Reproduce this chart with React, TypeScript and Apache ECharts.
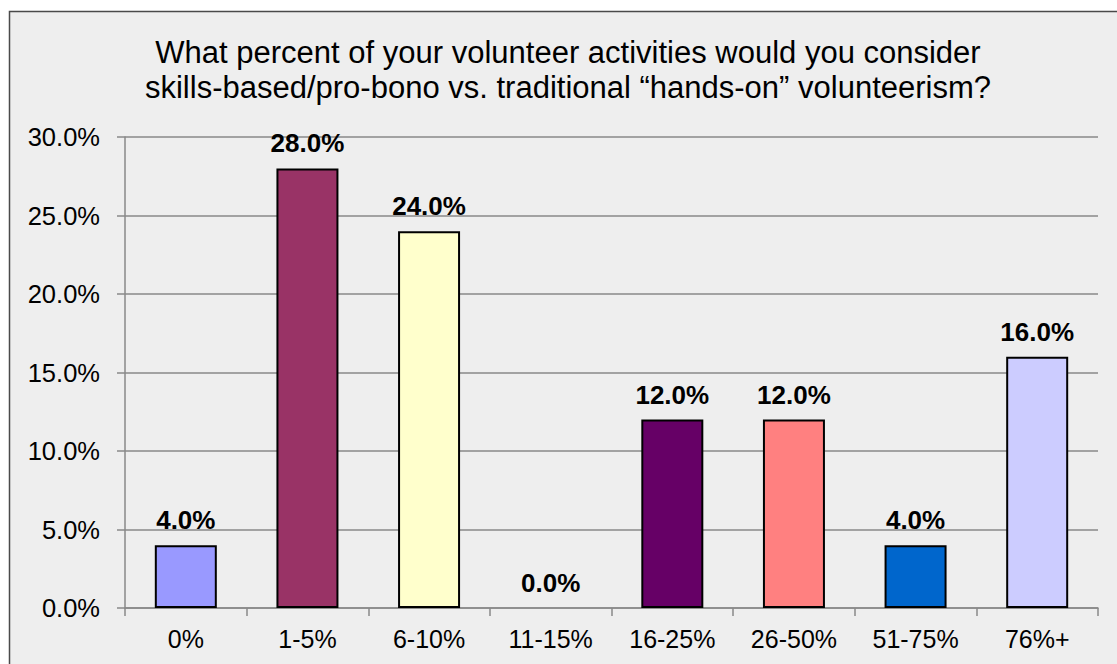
import React, { useEffect, useRef } from "react";
import * as echarts from "echarts";

const categories = ["0%", "1-5%", "6-10%", "11-15%", "16-25%", "26-50%", "51-75%", "76%+"];
const values = [4.0, 28.0, 24.0, 0.0, 12.0, 12.0, 4.0, 16.0];
const barColors = ["#9999FF", "#993366", "#FFFFCC", "#CCFFFF", "#660066", "#FF8080", "#0066CC", "#CCCCFF"];
const titleLines = [
  "What percent of your volunteer activities would you consider",
  "skills-based/pro-bono vs. traditional \u201chands-on\u201d volunteerism?",
];

const FONT = "'Liberation Sans', Arial, sans-serif";

export default function App() {
  const ref = useRef<HTMLDivElement>(null);
  useEffect(() => {
    if (!ref.current) return;
    const chart = echarts.init(ref.current, null, { renderer: "svg" });
    chart.setOption({
      animation: false,
      backgroundColor: "#FFFFFF",
      graphic: [
        {
          type: "rect",
          z: -10,
          shape: { x: 9.5, y: 11.5, width: 1130, height: 700 },
          style: { fill: "#EEEEEE", stroke: "#4A4A4A", lineWidth: 1.5 },
          silent: true,
        },
      ],
      title: {
        text: titleLines.join("\n"),
        left: 563,
        textAlign: "center",
        top: 30,
        textStyle: {
          fontFamily: FONT,
          fontSize: 31,
          fontWeight: "normal",
          color: "#000",
          lineHeight: 35,
        },
      },
      grid: { left: 125, right: 19, top: 137, bottom: 56 },
      xAxis: {
        type: "category",
        data: categories,
        axisLine: { lineStyle: { color: "#888", width: 1.5 } },
        axisTick: { show: true, alignWithLabel: false, length: 8, lineStyle: { color: "#888", width: 1.5 } },
        axisLabel: { fontFamily: FONT, fontSize: 25, color: "#000", margin: 18 },
      },
      yAxis: {
        type: "value",
        min: 0,
        max: 30,
        interval: 5,
        axisLine: { show: true, lineStyle: { color: "#888", width: 1.5 } },
        axisTick: { show: true, length: 8, lineStyle: { color: "#888", width: 1.5 } },
        splitLine: { lineStyle: { color: "#888", width: 1.5 } },
        axisLabel: {
          fontFamily: FONT,
          fontSize: 25.5,
          color: "#000",
          margin: 25,
          formatter: (v: number) => v.toFixed(1) + "%",
        },
      },
      series: [
        {
          type: "bar",
          data: values.map((v, i) => ({
            value: v,
            itemStyle: { color: barColors[i], borderColor: "#000", borderWidth: v > 0 ? 2 : 0 },
          })),
          barWidth: 62,
          label: {
            show: true,
            position: "top",
            distance: 12,
            fontFamily: FONT,
            fontSize: 26,
            fontWeight: "bold",
            color: "#000",
            formatter: (p: any) => Number(p.value).toFixed(1) + "%",
          },
        },
      ],
    });
    return () => chart.dispose();
  }, []);
  return (
    <div
      ref={ref}
      style={{ position: "fixed", left: 0, top: 0, width: 1117, height: 664 }}
    />
  );
}
